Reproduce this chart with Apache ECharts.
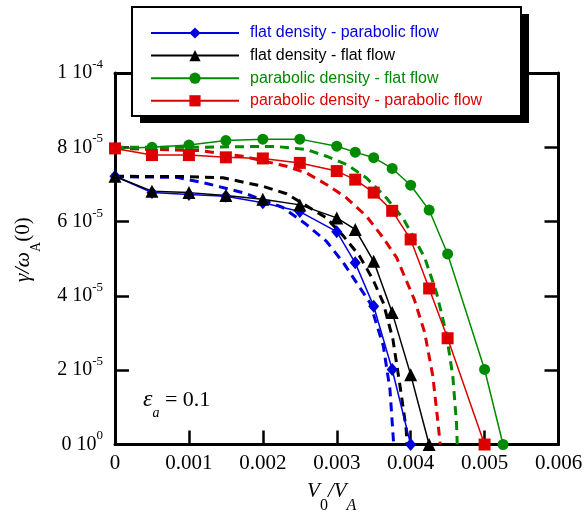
<!DOCTYPE html>
<html>
<head>
<meta charset="utf-8">
<title>growth rate vs V0/VA</title>
<script src="https://cdn.jsdelivr.net/npm/echarts@6/dist/echarts.min.js"></script>
<style>
  html, body { margin: 0; padding: 0; background: #fff; }
  #chart { width: 586px; height: 516px; }
</style>
</head>
<body>
<div id="chart"></div>
<script>
// names / colours of the four marked series (legend order)
var seriesNames = [
  'flat density - parabolic flow',
  'flat density - flat flow',
  'parabolic density - flat flow',
  'parabolic density - parabolic flow'
];
var seriesColors = ['#0000dd', '#000000', '#008a00', '#dd0000'];

// gamma/omega_A(0) values are in units of 1e-5
// flat density - parabolic flow (diamonds)
var xBlue = [0, 0.0005, 0.001, 0.0015, 0.002, 0.0025, 0.003, 0.00325, 0.0035, 0.00375, 0.004];
var yBlue = [7.22, 6.78, 6.73, 6.68, 6.51, 6.27, 5.73, 4.89, 3.72, 2.02, 0];
// flat density - flat flow (triangles)
var xBlack = [0, 0.0005, 0.001, 0.0015, 0.002, 0.0025, 0.003, 0.00325, 0.0035, 0.00375, 0.004, 0.00425];
var yBlack = [7.22, 6.82, 6.78, 6.70, 6.60, 6.45, 6.10, 5.79, 4.93, 3.55, 1.88, 0];
// parabolic density - flat flow (circles)
var xGreen = [0, 0.0005, 0.001, 0.0015, 0.002, 0.0025, 0.003, 0.00325, 0.0035, 0.00375, 0.004, 0.00425, 0.0045, 0.005, 0.00525];
var yGreen = [7.97, 8.0, 8.06, 8.18, 8.22, 8.22, 8.03, 7.87, 7.72, 7.43, 6.98, 6.31, 5.13, 2.02, 0];
// parabolic density - parabolic flow (squares)
var xRed = [0, 0.0005, 0.001, 0.0015, 0.002, 0.0025, 0.003, 0.00325, 0.0035, 0.00375, 0.004, 0.00425, 0.0045, 0.005];
var yRed = [7.97, 7.79, 7.79, 7.73, 7.70, 7.58, 7.36, 7.13, 6.78, 6.29, 5.52, 4.20, 2.86, 0];

// dashed curves (no markers)
var xBlueDash = [0, 0.00084, 0.00119, 0.00173, 0.00227, 0.00259, 0.00286, 0.00309, 0.00345, 0.00363, 0.00372, 0.00376, 0.00377];
var yBlueDash = [7.21, 7.19, 7.05, 6.78, 6.38, 5.92, 5.47, 4.89, 3.81, 2.65, 1.48, 0.31, 0];
var xBlackDash = [0, 0.00101, 0.00146, 0.002, 0.00232, 0.00286, 0.00309, 0.00331, 0.00349, 0.00363, 0.00376, 0.00387, 0.00394, 0.00395];
var yBlackDash = [7.22, 7.21, 7.18, 6.95, 6.75, 6.10, 5.61, 5.07, 4.44, 3.81, 2.83, 1.39, 0.40, 0];
var xRedDash = [0, 0.00115, 0.00173, 0.00232, 0.00259, 0.00286, 0.00313, 0.0034, 0.00363, 0.00381, 0.00405, 0.00419, 0.0043, 0.00437, 0.0044];
var yRedDash = [7.97, 7.91, 7.76, 7.49, 7.31, 7.00, 6.64, 6.15, 5.56, 5.03, 3.90, 3.01, 1.84, 0.58, 0];
var xGreenDash = [0, 0.00105, 0.00182, 0.00219, 0.00259, 0.00286, 0.00313, 0.0034, 0.00367, 0.0039, 0.00419, 0.00435, 0.00448, 0.00457, 0.00462, 0.00463];
var yGreenDash = [8.0, 8.0, 8.02, 8.02, 7.94, 7.76, 7.54, 7.18, 6.64, 6.08, 5.03, 4.08, 3.01, 1.84, 0.58, 0];

// tick labels
var xTickLabels = ['0', '0.001', '0.002', '0.003', '0.004', '0.005', '0.006'];
var yTickMantissa = ['0', '2', '4', '6', '8', '1'];
var yTickExponent = ['0', '-5', '-5', '-5', '-5', '-4'];

function pairs(xs, ys) {
  return xs.map(function (x, i) { return [x, ys[i]]; });
}

var chart = echarts.init(document.getElementById('chart'));

var serif = 'Liberation Serif';
var axisLineStyle = { color: '#000', width: 3 };
var tickStyle = { show: true, inside: true, length: 14, lineStyle: { color: '#000', width: 2.5 } };

function dashed(name, color, xs, ys) {
  return {
    name: name,
    type: 'line',
    data: pairs(xs, ys),
    symbol: 'none',
    lineStyle: { color: color, width: 3, type: [9, 6] },
    silent: true
  };
}

function marked(i, xs, ys, symbol, size) {
  return {
    name: seriesNames[i],
    type: 'line',
    data: pairs(xs, ys),
    symbol: symbol,
    symbolSize: size,
    showAllSymbol: true,
    color: seriesColors[i],
    itemStyle: { color: seriesColors[i] },
    lineStyle: { color: seriesColors[i], width: 1.5 }
  };
}

var option = {
  animation: false,
  backgroundColor: '#fff',
  grid: { left: 115, right: 27.5, top: 73, bottom: 71.5, containLabel: false, outerBoundsMode: 'none' },
  xAxis: [{
    type: 'value',
    position: 'bottom',
    min: 0, max: 0.006, interval: 0.001,
    axisLine: { onZero: false, lineStyle: axisLineStyle },
    axisTick: tickStyle,
    splitLine: { show: false },
    axisLabel: {
      margin: 8,
      color: '#000',
      fontFamily: serif,
      fontSize: 21,
      formatter: function (v) { return xTickLabels[Math.round(v / 0.001)]; }
    },
    name: '{v|V}{s|0}{v|/V}{sa|A}',
    nameLocation: 'middle',
    nameGap: 25,
    nameTextStyle: {
      padding: [0, 10, 0, 0],
      rich: {
        v: { fontFamily: serif, fontStyle: 'italic', fontSize: 21, lineHeight: 44, color: '#000' },
        s: { fontFamily: serif, fontSize: 16, lineHeight: 16, verticalAlign: 'bottom', color: '#000' },
        sa: { fontFamily: serif, fontStyle: 'italic', fontSize: 16, lineHeight: 16, verticalAlign: 'bottom', color: '#000' }
      }
    }
  }, {
    type: 'value',
    position: 'top',
    min: 0, max: 0.006, interval: 0.001,
    axisLine: { onZero: false, lineStyle: axisLineStyle },
    axisTick: tickStyle,
    axisLabel: { show: false },
    splitLine: { show: false }
  }],
  yAxis: [{
    type: 'value',
    position: 'left',
    min: 0, max: 10, interval: 2,
    axisLine: { onZero: false, lineStyle: axisLineStyle },
    axisTick: tickStyle,
    splitLine: { show: false },
    axisLabel: {
      margin: 12,
      formatter: function (v) {
        var k = Math.round(v / 2);
        return '{m|' + yTickMantissa[k] + ' 10}{e|' + yTickExponent[k] + '}';
      },
      rich: {
        m: { fontFamily: serif, fontSize: 20, lineHeight: 30, color: '#000' },
        e: { fontFamily: serif, fontSize: 13, lineHeight: 13, verticalAlign: 'top', color: '#000' }
      }
    },
    name: '{g|\u03b3/\u03c9}{s|A}{n|(0)}',
    nameLocation: 'middle',
    nameRotate: 90,
    nameGap: 72,
    nameTextStyle: {
      padding: [0, 0, 0, 18],
      rich: {
        g: { fontFamily: serif, fontStyle: 'italic', fontSize: 22, lineHeight: 40, color: '#000' },
        s: { fontFamily: serif, fontSize: 14, lineHeight: 14, verticalAlign: 'bottom', color: '#000' },
        n: { fontFamily: serif, fontSize: 21, lineHeight: 40, color: '#000' }
      }
    }
  }, {
    type: 'value',
    position: 'right',
    min: 0, max: 10, interval: 2,
    axisLine: { onZero: false, lineStyle: axisLineStyle },
    axisTick: tickStyle,
    axisLabel: { show: false },
    splitLine: { show: false }
  }],
  legend: {
    orient: 'vertical',
    left: 150,
    top: 25,
    padding: 0,
    itemWidth: 88,
    itemHeight: 14,
    itemGap: 6.6,
    z: 100,
    selectedMode: false,
    lineStyle: { width: 2 },
    textStyle: { fontFamily: 'Liberation Sans', fontSize: 16, lineHeight: 14, padding: [0, 0, 0, 6] },
    data: seriesNames.map(function (n, i) {
      return { name: n, textStyle: { color: seriesColors[i] } };
    })
  },
  graphic: [
    { type: 'rect', z: 50, shape: { x: 140, y: 14, width: 389, height: 109 }, style: { fill: '#000' } },
    { type: 'rect', z: 51, shape: { x: 132, y: 7, width: 389, height: 109 }, style: { fill: '#fff', stroke: '#000', lineWidth: 2 } },
    {
      type: 'text', z: 52, x: 143, y: 400,
      style: {
        text: '{e|\u03b5}{a|a}{t| = 0.1}',
        verticalAlign: 'middle',
        rich: {
          e: { fontFamily: serif, fontStyle: 'italic', fontSize: 24, lineHeight: 40, fill: '#000' },
          a: { fontFamily: serif, fontStyle: 'italic', fontSize: 14, lineHeight: 14, verticalAlign: 'bottom', fill: '#000' },
          t: { fontFamily: serif, fontSize: 22, lineHeight: 40, fill: '#000' }
        }
      }
    }
  ],
  series: [
    dashed('blue dashed', seriesColors[0], xBlueDash, yBlueDash),
    dashed('black dashed', seriesColors[1], xBlackDash, yBlackDash),
    dashed('red dashed', seriesColors[3], xRedDash, yRedDash),
    dashed('green dashed', seriesColors[2], xGreenDash, yGreenDash),
    marked(0, xBlue, yBlue, 'diamond', [11, 13]),
    marked(1, xBlack, yBlack, 'triangle', 13),
    marked(2, xGreen, yGreen, 'circle', 11),
    marked(3, xRed, yRed, 'rect', 12)
  ]
};

chart.setOption(option);
</script>
</body>
</html>
